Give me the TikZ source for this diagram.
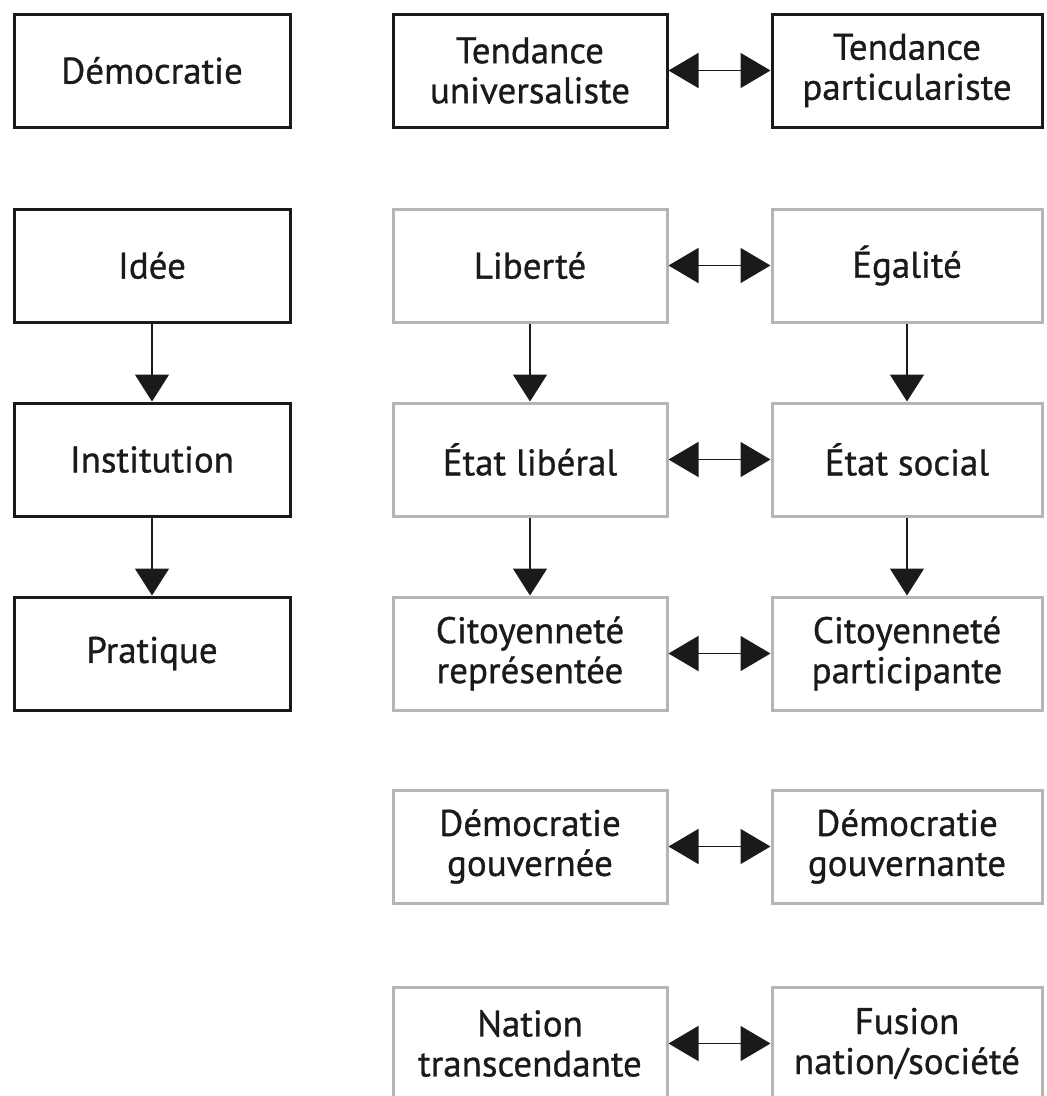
\documentclass[tikz,border=0pt]{standalone}
\usepackage{fontspec}
\setmainfont[FakeBold=0.8]{PT Sans}
\usetikzlibrary{arrows.meta}
\definecolor{boxgray}{HTML}{B5B5B5}
\definecolor{ink}{HTML}{1A1A1A}
\begin{document}
\begin{tikzpicture}[x=1pt,y=-1pt,
  base/.style={rectangle, minimum height=113pt, align=center, inner sep=0pt,
    font=\fontsize{37}{40}\selectfont, text=ink},
  blackbox/.style={base, draw=ink, line width=3pt},
  graybox/.style={base, draw=boxgray, line width=3pt},
  wl/.style={minimum width=276pt},
  wm/.style={minimum width=274pt},
  wr/.style={minimum width=270pt},
  down/.style={draw=ink, line width=1.6pt, -{Triangle[width=34pt,length=27pt]}},
  both/.style={draw=ink, line width=1.6pt, {Triangle[width=35pt,length=30pt]}-{Triangle[width=35pt,length=30pt]}}
]
\useasboundingbox (0,0) rectangle (1047,1096);
\clip (0,0) rectangle (1047,1096);

% left column
\node[blackbox, wl] (dem) at (152,70.5) {Démocratie};
\node[blackbox, wl] (idee) at (152,265.5) {Idée};
\node[blackbox, wl] (inst) at (152,459.5) {Institution};
\node[blackbox, wl] (prat) at (152,653.5) {Pratique};

% row 1
\node[blackbox, wm] (tu) at (530,70.5) {Tendance\\universaliste};
\node[blackbox, wr] (tp) at (907,70.5) {Tendance\\particulariste};

% gray rows
\node[graybox, wm] (lib) at (530,265.5) {Liberté};
\node[graybox, wr] (ega) at (907,265.5) {Égalité};
\node[graybox, wm] (el) at (530,459.5) {État libéral};
\node[graybox, wr] (es) at (907,459.5) {État social};
\node[graybox, wm] (cr) at (530,653.5) {Citoyenneté\\représentée};
\node[graybox, wr] (cp) at (907,653.5) {Citoyenneté\\participante};
\node[graybox, wm] (dg) at (530,846.5) {Démocratie\\gouvernée};
\node[graybox, wr] (dgt) at (907,846.5) {Démocratie\\gouvernante};
\node[graybox, wm] (nt) at (530,1043.5) {Nation\\transcendante};
\node[graybox, wr] (fn) at (907,1043.5) {Fusion\\nation/société};

% vertical arrows
\draw[down] (idee) -- (inst);
\draw[down] (inst) -- (prat);
\draw[down] (lib) -- (el);
\draw[down] (el) -- (cr);
\draw[down] (ega) -- (es);
\draw[down] (es) -- (cp);

% horizontal double arrows
\draw[both] (tu) -- (tp);
\draw[both] (lib) -- (ega);
\draw[both] (el) -- (es);
\draw[both] (cr) -- (cp);
\draw[both] (dg) -- (dgt);
\draw[both] (nt) -- (fn);
\end{tikzpicture}
\end{document}
